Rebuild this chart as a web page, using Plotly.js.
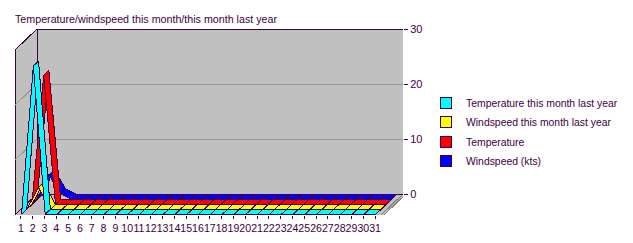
<!DOCTYPE html>
<html><head><meta charset="utf-8">
<script src="https://cdn.plot.ly/plotly-3.0.1.min.js"></script>
<style>html,body{margin:0;padding:0;background:#fff;}#chart{width:633px;height:243px;}
#chart svg path{shape-rendering:crispEdges;}</style>
</head><body><div id="chart"></div>
<script>
// ---- data ----
const days = ['1','2','3','4','5','6','7','8','9','10','11','12','13','14','15','16','17','18','19','20','21','22','23','24','25','26','27','28','29','30','31'];
const tempLastYear = [0,27,0,0,0,0,0,0,0,0,0,0,0,0,0,0,0,0,0,0,0,0,0,0,0,0,0,0,0,0,0];
const windLastYear = [0,4,0,0,0,0,0,0,0,0,0,0,0,0,0,0,0,0,0,0,0,0,0,0,0,0,0,0,0,0,0];
const temperature  = [0,23.5,0,0,0,0,0,0,0,0,0,0,0,0,0,0,0,0,0,0,0,0,0,0,0,0,0,0,0,0,0];
const windspeed    = [0,4.5,1,0,0,0,0,0,0,0,0,0,0,0,0,0,0,0,0,0,0,0,0,0,0,0,0,0,0,0,0];
const seriesNames  = ['Temperature this month last year','Windspeed this month last year','Temperature','Windspeed (kts)'];
const seriesValues = [tempLastYear, windLastYear, temperature, windspeed];
const seriesColors = ['#00ffff','#ffff00','#ff0000','#0000ff'];
const yTicks = [0,10,20,30];
const titleText = 'Temperature/windspeed this month/this month last year';

// ---- styling / oblique projection ----
const EDGE = '#400040', WALL = '#c0c0c0', GRID = '#9a9a8c';
const N = days.length, Y_MAX = 30;
const PX_PER_CAT = 366 / N, PX_PER_UNIT = 5.5;
const DEPTH_PX_X = 22, DEPTH_PX_Y = 21;
const DX = DEPTH_PX_X / PX_PER_CAT, DY = DEPTH_PX_Y / PX_PER_UNIT;
const FONT = 'Arial, "Liberation Sans", sans-serif';

const catPos = days.map((d, i) => i + 1);
function pt(k, v, f) { return [catPos[k] - f * DX, v - f * DY]; }

const traces = [];
const nS = seriesValues.length;
// 3-D line ribbons, back series first, each segment left to right
for (let s = nS - 1; s >= 0; s--) {
  const vals = seriesValues[s];
  const depth = nS - 1 - s;               // 0 = back
  const f0 = 0.03 + depth * 0.235, f1 = f0 + 0.235;
  for (let k = 0; k < N - 1; k++) {
    const poly = [pt(k, vals[k], f1), pt(k + 1, vals[k + 1], f1), pt(k + 1, vals[k + 1], f0), pt(k, vals[k], f0), pt(k, vals[k], f1)];
    traces.push({type: 'scatter', mode: 'lines', x: poly.map(p => p[0]), y: poly.map(p => p[1]),
      fill: 'toself', fillcolor: seriesColors[s], line: {color: EDGE, width: 1},
      hoverinfo: 'skip', showlegend: false});
  }
}
// legend entries
for (let s = 0; s < nS; s++) {
  traces.push({type: 'scatter', mode: 'markers', x: [null], y: [null], xaxis: 'x2', name: seriesNames[s],
    marker: {symbol: 'square', size: 11, color: seriesColors[s], line: {color: EDGE, width: 1}},
    legendgroup: 'g' + s, showlegend: true, hoverinfo: 'skip'});
}

const x0 = 0.5, x1 = N + 0.5;
const shapes = [
  {type: 'path', layer: 'below', xref: 'x', yref: 'y',
   path: `M${x0},0 L${x0},${Y_MAX} L${x0 - DX},${Y_MAX - DY} L${x0 - DX},${-DY} Z`,
   fillcolor: WALL, line: {color: EDGE, width: 1}},
  {type: 'path', layer: 'below', xref: 'x', yref: 'y',
   path: `M${x0},0 L${x1},0 L${x1 - DX},${-DY} L${x0 - DX},${-DY} Z`,
   fillcolor: WALL, line: {color: EDGE, width: 1}},
  {type: 'path', layer: 'below', xref: 'x', yref: 'y',
   path: `M${x1},0 L${x1 + 0.25},0 L${x1 + 0.25 - DX},${-DY} L${x1 - DX},${-DY} Z`,
   fillcolor: WALL, line: {color: '#808080', width: 1}},
  {type: 'rect', layer: 'below', xref: 'x', yref: 'y', x0: x0, x1: x1, y0: 0, y1: Y_MAX,
   fillcolor: WALL, line: {color: EDGE, width: 1}},
];
yTicks.filter(v => v > 0 && v < Y_MAX).forEach(v => {
  shapes.push({type: 'line', layer: 'below', xref: 'x', yref: 'y', x0: x0, x1: x1, y0: v, y1: v, line: {color: GRID, width: 1}});
  shapes.push({type: 'line', layer: 'below', xref: 'x', yref: 'y', x0: x0, x1: x0 - DX, y0: v, y1: v - DY, line: {color: GRID, width: 1}});
});

const layout = {
  width: 633, height: 243,
  margin: {l: 15, r: 230, t: 29, b: 28, autoexpand: false},
  paper_bgcolor: '#ffffff', plot_bgcolor: '#ffffff',
  font: {family: FONT, color: EDGE, size: 11},
  title: {text: titleText, font: {family: FONT, size: 10.7, color: EDGE},
          x: 15 / 633, xref: 'container', xanchor: 'left', y: 1 - 19 / 243, yref: 'container', yanchor: 'middle'},
  xaxis: {range: [x0 - DX, x1], visible: false, fixedrange: true},
  xaxis2: {overlaying: 'x', anchor: 'y', side: 'bottom', range: [x0, x1 + DX], tickmode: 'array',
           tickvals: catPos, ticktext: days, ticks: 'outside', ticklen: 3, tickcolor: EDGE, tickangle: 0,
           tickfont: {family: FONT, size: 10.6, color: EDGE}, showgrid: false, zeroline: false, showline: false, fixedrange: true},
  yaxis: {range: [-DY, Y_MAX], side: 'right', anchor: 'x', tickmode: 'array', tickvals: yTicks,
          ticks: 'outside', ticklen: 4, tickcolor: EDGE, tickfont: {family: FONT, size: 11, color: EDGE},
          showgrid: false, zeroline: false, showline: false, fixedrange: true},
  showlegend: true,
  legend: {x: 426 / 633, xref: 'container', y: 1 - 88 / 243, yref: 'container', xanchor: 'left', yanchor: 'top',
           font: {family: FONT, size: 10.4, color: EDGE}, bgcolor: 'rgba(0,0,0,0)', traceorder: 'grouped', tracegroupgap: 0.5},
  shapes: shapes
};
Plotly.newPlot('chart', traces, layout, {staticPlot: true, displayModeBar: false});
</script>
</body></html>
